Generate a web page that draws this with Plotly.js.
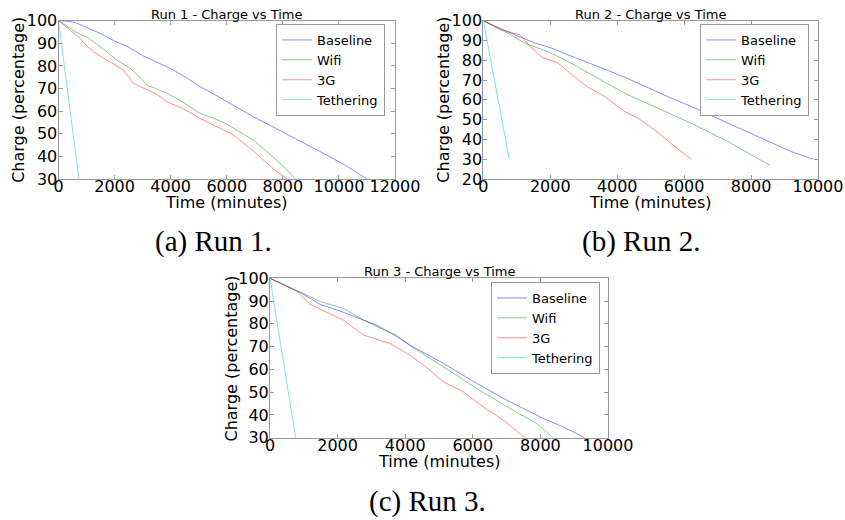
<!DOCTYPE html>
<html>
<head>
<meta charset="utf-8">
<script src="https://cdn.plot.ly/plotly-3.0.1.min.js"></script>
<style>html,body{margin:0;padding:0;background:#fff;}#chart{width:845px;height:520px;}</style>
</head>
<body>
<div id="chart"></div>
<script>
// ---- Data ----
const seriesNames = ["Baseline", "Wifi", "3G", "Tethering"];
const runTitles = ["Run 1 - Charge vs Time", "Run 2 - Charge vs Time", "Run 3 - Charge vs Time"];
const captions = ["(a) Run 1.", "(b) Run 2.", "(c) Run 3."];
const xTitle = "Time (minutes)";
const yTitle = "Charge (percentage)";

// Run 1
const run1BaselineT = [0,300,600,1000,1500,2000,2500,3000,3500,4000,4500,5000,5500,6000,6500,7000,7500,8000,8500,9000,9500,10000,10500,11000];
const run1BaselineC = [100,99.8,99.2,97,94.3,91,88.3,84.6,81.8,78.8,75.3,71.2,67.8,64.2,60.8,57.2,54,50.8,47.4,44.2,41,37.6,34,30];
const run1WifiT = [0,300,650,1000,1240,1600,2075,2550,2900,3145,3500,3975,4500,5045,5500,6000,6500,6950,7425,7780,8080,8300,8450];
const run1WifiC = [100,97.5,94.8,92.8,90.7,87.5,82.6,79,75,71.6,69.8,67.2,63.5,59,57,54.3,50.5,47.3,42.1,38.4,34.8,32,30];
const run13GT = [0,300,710,1000,1240,1720,2000,2310,2670,3025,3500,3860,4500,5045,5640,6235,6830,7425,7780,8160];
const run13GC = [100,97,92.9,89,86.3,82.6,80.5,78.2,72.3,70.1,67.5,64.2,60.8,56.8,53.2,49.5,43.6,37,33.3,30];
const run1TetherT = [0,730];
const run1TetherC = [100,30];

// Run 2
const run2BaselineT = [0,500,846,1500,2000,2537,3000,3433,4229,5025,5600,6219,7214,8209,9204,9850];
const run2BaselineC = [100,96,93.6,89,86.4,82.7,79.8,76.8,71.4,65.3,61,56.6,49,41.4,33.8,30];
const run2WifiT = [0,400,746,1244,1940,2537,3000,3532,4229,5224,6219,6816,7413,8010,8557];
const run2WifiC = [100,96.5,93.6,88.6,84.3,79.3,75,70,63.3,55.7,48.1,43.1,38,32.2,27.1];
const run23GT = [0,500,1095,1400,1741,2239,2700,3134,3632,4229,4627,5224,5721,6219];
const run23GC = [100,95.5,92.8,87,81.8,78.5,72,66.3,61.6,54,50.7,43.4,36.4,30];
const run2TetherT = [0,776];
const run2TetherC = [100,30];

// Run 3
const run3BaselineT = [0,500,985,1478,2167,2700,3153,3744,4138,5123,6108,7094,8079,8670,9310];
const run3BaselineC = [100,96.5,93,88.6,85.1,82,79.5,74.4,70.7,62.7,53.9,45.8,38.5,34.8,30];
const run3WifiT = [0,500,985,1478,2167,2759,3200,3744,4138,5123,6108,7094,7882,8374];
const run3WifiC = [100,96.8,93.4,89.8,86.8,81.7,78.5,75.1,70.4,61.2,51.7,42.9,36.3,30];
const run33GT = [0,400,788,1182,1700,2167,2759,3547,4138,4700,5123,5714,6305,6896,7537];
const run33GC = [100,97,94.4,88.6,85,81.7,75.1,71.4,66.3,60,54.6,50.2,43.6,37.8,30];
const run3TetherT = [0,759];
const run3TetherC = [100,30];

// Axis ranges
const xRanges = [[0,12000],[0,10000],[0,10000]];
const yRanges = [[30,100],[20,100],[30,100]];

// ---- Styling ----
const colors = ["rgba(0,0,255,0.45)", "rgba(0,128,0,0.45)", "rgba(255,0,0,0.45)", "rgba(0,200,200,0.5)"];
const W = 845, H = 520;
const boxes = [
  {l:58.5, r:395, t:20.7, b:179},
  {l:483.3, r:818, t:20.7, b:179},
  {l:270, r:608, t:278.3, b:437.7}
];
const legendPos = [{x:276, y:24}, {x:700, y:24}, {x:491, y:282}];
const captionPos = [{x:213.5, y:241}, {x:641, y:241}, {x:427, y:501}];

const runs = [
  [[run1BaselineT,run1BaselineC],[run1WifiT,run1WifiC],[run13GT,run13GC],[run1TetherT,run1TetherC]],
  [[run2BaselineT,run2BaselineC],[run2WifiT,run2WifiC],[run23GT,run23GC],[run2TetherT,run2TetherC]],
  [[run3BaselineT,run3BaselineC],[run3WifiT,run3WifiC],[run33GT,run33GC],[run3TetherT,run3TetherC]]
];

const traces = [];
runs.forEach((run, ri) => {
  const sfx = ri === 0 ? "" : String(ri + 1);
  run.forEach((s, si) => {
    traces.push({
      x: s[0], y: s[1], type: "scatter", mode: "lines",
      name: seriesNames[si],
      line: {color: colors[si], width: 1},
      xaxis: "x" + sfx, yaxis: "y" + sfx,
      legend: "legend" + sfx,
      showlegend: true
    });
  });
});

const layout = {
  width: W, height: H,
  margin: {l:0, r:0, t:0, b:0},
  paper_bgcolor: "#fff", plot_bgcolor: "#fff",
  font: {family: "DejaVu Sans", color: "#000"},
  showlegend: true,
  annotations: []
};

const axisFont = {family: "DejaVu Sans", size: 16, color: "#000"};
boxes.forEach((b, i) => {
  const sfx = i === 0 ? "" : String(i + 1);
  layout["xaxis" + sfx] = {
    domain: [b.l / W, b.r / W],
    anchor: "y" + sfx,
    range: xRanges[i],
    dtick: 2000, tick0: 0, tickformat: "d",
    showgrid: false, zeroline: false,
    showline: true, linecolor: "#999", linewidth: 1, mirror: "ticks",
    ticks: "inside", ticklen: 4, tickcolor: "#999",
    tickfont: axisFont, ticklabelstandoff: -7,
    automargin: false
  };
  layout["yaxis" + sfx] = {
    domain: [1 - b.b / H, 1 - b.t / H],
    anchor: "x" + sfx,
    range: yRanges[i],
    dtick: 10, tickformat: "d",
    showgrid: false, zeroline: false,
    showline: true, linecolor: "#999", linewidth: 1, mirror: "ticks",
    ticks: "inside", ticklen: 4, tickcolor: "#999",
    tickfont: axisFont, ticklabelstandoff: -3,
    automargin: false
  };
  layout["legend" + sfx] = {
    x: legendPos[i].x / W, y: 1 - legendPos[i].y / H,
    xanchor: "left", yanchor: "top",
    bgcolor: "#fff", bordercolor: "#999", borderwidth: 1,
    font: {family: "DejaVu Sans", size: 13, color: "#000"},
    tracegroupgap: 0
  };
  // plot title
  layout.annotations.push({
    text: runTitles[i], xref: "paper", yref: "paper",
    x: (b.l + b.r) / 2 / W, y: 1 - (b.t - 6.5) / H,
    xanchor: "center", yanchor: "middle", showarrow: false,
    font: {family: "DejaVu Sans", size: 13, color: "#000"}
  });
  // x axis title
  layout.annotations.push({
    text: xTitle, xref: "paper", yref: "paper",
    x: (b.l + b.r) / 2 / W, y: 1 - (b.b + 24) / H,
    xanchor: "center", yanchor: "middle", showarrow: false,
    font: axisFont
  });
  // y axis title
  layout.annotations.push({
    text: yTitle, xref: "paper", yref: "paper",
    x: (b.l - 39.5) / W, y: 1 - (b.t + b.b) / 2 / H,
    xanchor: "center", yanchor: "middle", showarrow: false, textangle: -90,
    font: axisFont
  });
  // caption
  layout.annotations.push({
    text: captions[i], xref: "paper", yref: "paper",
    x: captionPos[i].x / W, y: 1 - captionPos[i].y / H,
    xanchor: "center", yanchor: "middle", showarrow: false,
    font: {family: "Liberation Serif", size: 29, color: "#000"}
  });
});

Plotly.newPlot("chart", traces, layout, {staticPlot: true, displayModeBar: false});
</script>
</body>
</html>
